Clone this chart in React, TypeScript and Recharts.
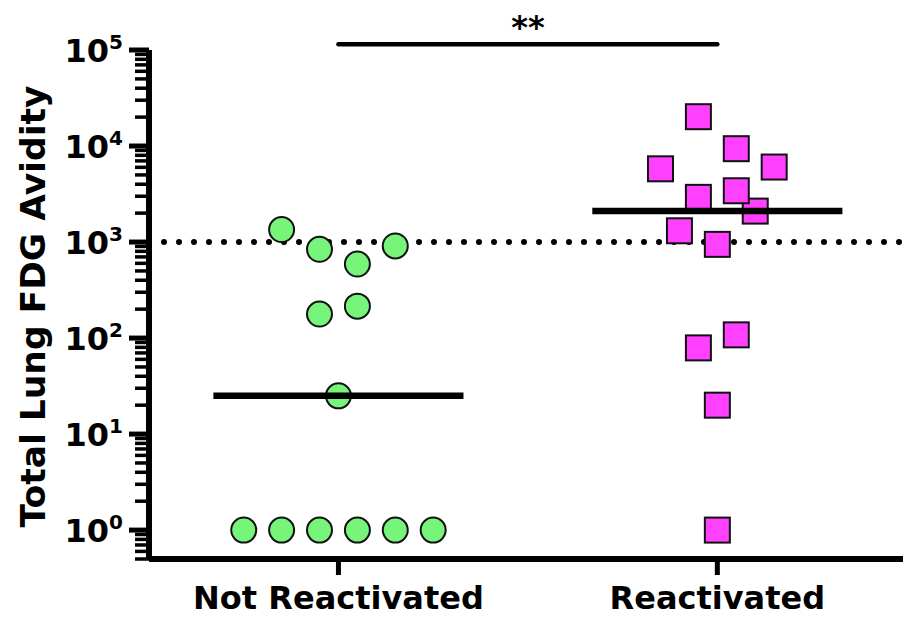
import { ScatterChart, Scatter, XAxis, YAxis, ReferenceLine, Label } from "recharts"

const CATEGORIES = ["Not Reactivated", "Reactivated"]

// values, jitter is the horizontal spread inside a column
const NOT_REACTIVATED = [1, 1, 1, 1, 1, 1, 25, 178, 215, 590, 840, 910, 1350]
const NOT_REACTIVATED_JITTER = [-0.25, -0.15, -0.05, 0.05, 0.15, 0.25, 0, -0.05, 0.05, 0.05, -0.05, 0.15, -0.15]

const REACTIVATED = [1, 20, 79, 108, 946, 1310, 2100, 2920, 3420, 5790, 6040, 9380, 20200]
const REACTIVATED_JITTER = [0, 0, -0.05, 0.05, 0, -0.1, 0.1, -0.05, 0.05, -0.15, 0.15, 0.05, -0.05]

const MAJOR_TICKS = [1, 10, 100, 1000, 10000, 100000]
const MINOR_STEPS = [2, 3, 4, 5, 6, 7, 8, 9]
const THRESHOLD = 1000
const SIG_BAR_LEVEL = 115000
const SIG_LABEL = "**"
const Y_TITLE = "Total Lung FDG Avidity"

const FONT = "'DejaVu Sans', sans-serif"
const GREEN = "#76F57A"
const MAGENTA = "#FF40FF"

const minorTicks = [0.5, 0.6, 0.7, 0.8, 0.9]
MAJOR_TICKS.slice(0, -1).forEach((m) => MINOR_STEPS.forEach((s) => minorTicks.push(m * s)))
const allTicks = [...MAJOR_TICKS, ...minorTicks].sort((a, b) => a - b)

const toPoints = (values: number[], jitter: number[], group: number) =>
    values.map((v, i) => ({ x: group + jitter[i], y: v }))

const median = (values: number[]) => {
    const s = [...values].sort((a, b) => a - b)
    const m = Math.floor(s.length / 2)
    return s.length % 2 ? s[m] : (s[m - 1] + s[m]) / 2
}

const notData = toPoints(NOT_REACTIVATED, NOT_REACTIVATED_JITTER, 1)
const reData = toPoints(REACTIVATED, REACTIVATED_JITTER, 2)
const notMedian = median(NOT_REACTIVATED)
const reMedian = median(REACTIVATED)
const HALF = 0.33

function YTick({ x, y, payload }: any) {
    const v = payload.value
    const major = MAJOR_TICKS.includes(v)
    if (!major) {
        return <line x1={x - 14} x2={x} y1={y} y2={y} stroke="#000" strokeWidth={3.5} />
    }
    const exp = Math.round(Math.log10(v))
    return (
        <g>
            <line x1={x - 20} x2={x} y1={y} y2={y} stroke="#000" strokeWidth={5} />
            <text x={x - 26} y={y + 12} textAnchor="end" fontFamily={FONT} fontWeight="bold" fill="#000">
                <tspan fontSize={32}>10</tspan>
                <tspan fontSize={20} dy={-13}>{exp}</tspan>
            </text>
        </g>
    )
}

function XTick({ x, y, payload }: any) {
    return (
        <text x={x} y={y + 34} textAnchor="middle" fontFamily={FONT} fontWeight="bold" fontSize={32} fill="#000">
            {CATEGORIES[payload.value - 1]}
        </text>
    )
}

function YTitle({ viewBox }: any) {
    const cx = viewBox.x + 45
    const cy = viewBox.y + viewBox.height / 2 + 2
    return (
        <text x={cx} y={cy} transform={`rotate(-90 ${cx} ${cy})`} textAnchor="middle"
            fontFamily={FONT} fontWeight="bold" fontSize={34.5} fill="#000">
            {Y_TITLE}
        </text>
    )
}

const Dot = ({ cx, cy }: any) => <circle cx={cx} cy={cy} r={12.5} fill={GREEN} stroke="#111" strokeWidth={2} />
const Square = ({ cx, cy }: any) => <rect x={cx - 12.5} y={cy - 12.5} width={25} height={25} fill={MAGENTA} stroke="#111" strokeWidth={2} />

export default function App() {
    return (
        <div style={{ position: "absolute", left: 0, top: 0, width: 903, height: 618 }}>
            <ScatterChart width={903} height={618} margin={{ top: 50, right: 0, bottom: 0, left: 0 }}>
                <XAxis dataKey="x" type="number" domain={[0.5, 2.49]} ticks={[1, 2]} interval={0}
                    axisLine={{ stroke: "#000", strokeWidth: 6 }}
                    tickLine={{ stroke: "#000", strokeWidth: 5 }}
                    tickSize={16} tickMargin={0} height={59} tick={<XTick />} />
                <YAxis dataKey="y" type="number" scale="log" domain={[0.5, 100000]} allowDataOverflow
                    ticks={allTicks} interval={0} width={149}
                    axisLine={{ stroke: "#000", strokeWidth: 6 }}
                    tickLine={false} tickSize={0} tickMargin={0} tick={<YTick />}
                    label={<YTitle />} />
                <ReferenceLine y={THRESHOLD} stroke="#000" strokeWidth={6} strokeDasharray="0 15" strokeLinecap="round" />
                <Scatter data={notData} shape={<Dot />} isAnimationActive={false} />
                <Scatter data={reData} shape={<Square />} isAnimationActive={false} />
                <ReferenceLine segment={[{ x: 1 - HALF, y: notMedian }, { x: 1 + HALF, y: notMedian }]}
                    stroke="#000" strokeWidth={6.5} zIndex={700} />
                <ReferenceLine segment={[{ x: 2 - HALF, y: reMedian }, { x: 2 + HALF, y: reMedian }]}
                    stroke="#000" strokeWidth={6.5} zIndex={700} />
                <ReferenceLine segment={[{ x: 1, y: SIG_BAR_LEVEL }, { x: 2, y: SIG_BAR_LEVEL }]} ifOverflow="visible"
                    stroke="#000" strokeWidth={4.5} strokeLinecap="round">
                    <Label value={SIG_LABEL} position="top" offset={6} fontFamily={FONT} fontWeight="bold" fontSize={32} fill="#000" />
                </ReferenceLine>
            </ScatterChart>
        </div>
    )
}
